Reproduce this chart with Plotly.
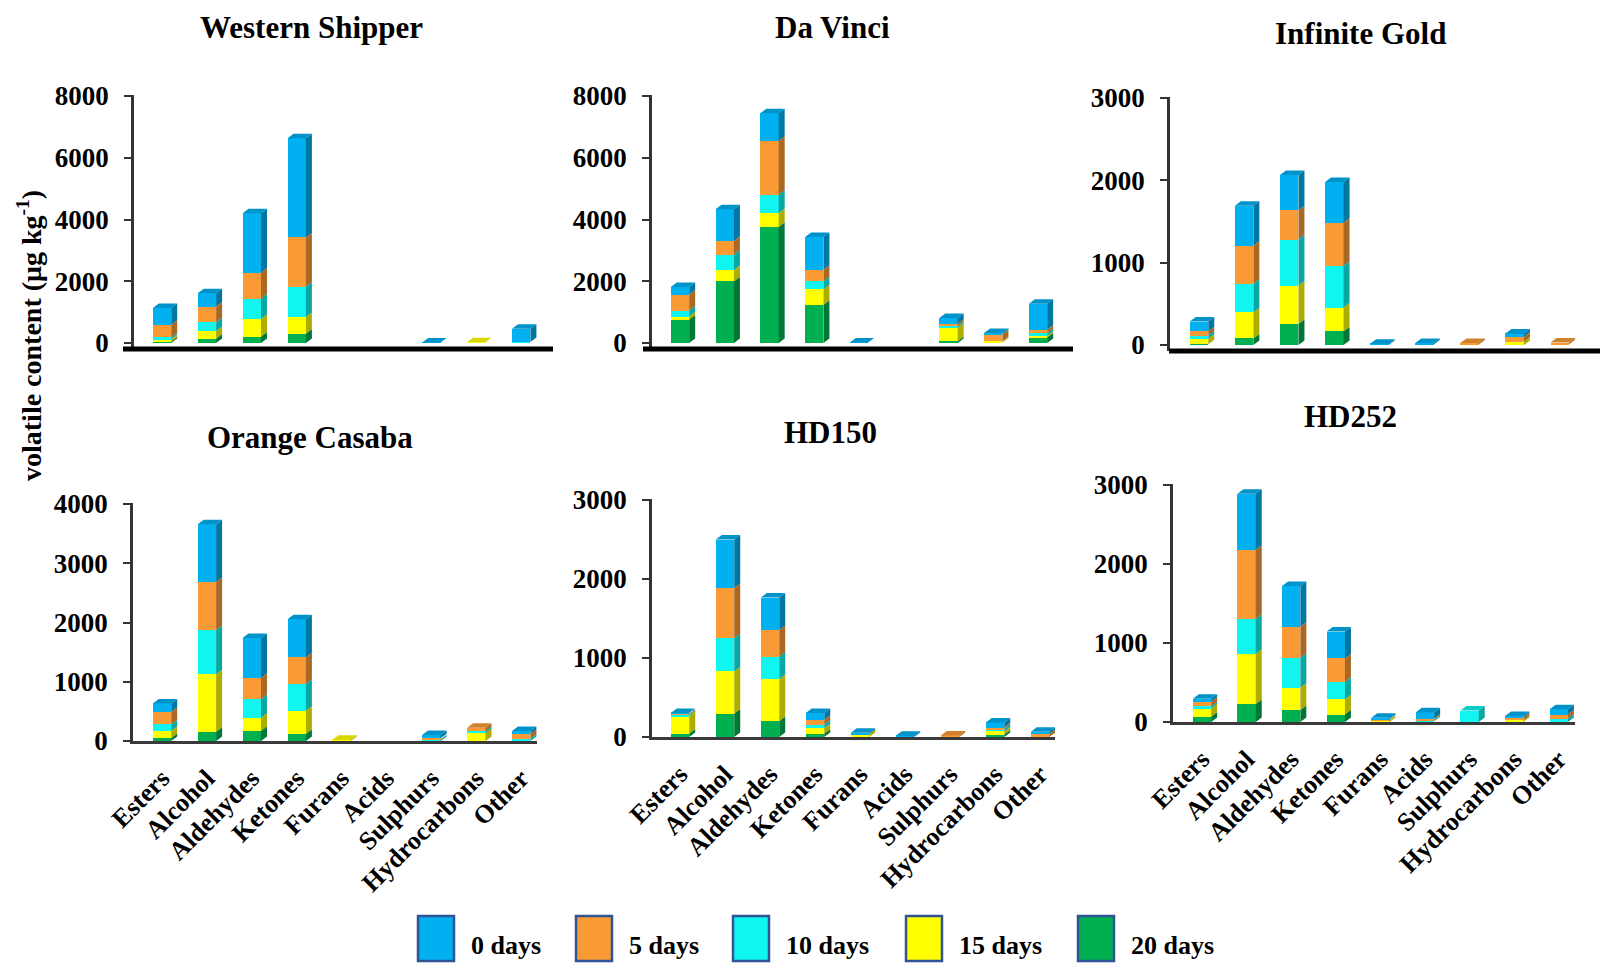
import plotly.graph_objects as go

W, H = 1600, 963

categories = ["Esters", "Alcohol", "Aldehydes", "Ketones", "Furans",
              "Acids", "Sulphurs", "Hydrocarbons", "Other"]
series_names = ["0 days", "5 days", "10 days", "15 days", "20 days"]
series_colors = ["#00B0F0", "#F99A35", "#10F5F0", "#FFFF00", "#00B050"]
panel_titles = ["Western Shipper", "Da Vinci", "Infinite Gold",
                "Orange Casaba", "HD150", "HD252"]

# volatile content (µg/kg) per category, one list per storage period
ws_0 = [540, 430, 1930, 3210, 0, 0, 20, 0, 430]
ws_5 = [410, 510, 840, 1600, 0, 0, 0, 0, 0]
ws_10 = [60, 290, 660, 990, 0, 0, 0, 0, 30]
ws_15 = [80, 240, 570, 530, 0, 0, 0, 25, 0]
ws_20 = [40, 140, 205, 300, 0, 0, 0, 0, 0]

dv_0 = [240, 1025, 895, 1060, 20, 0, 195, 45, 840]
dv_5 = [520, 440, 1750, 375, 0, 0, 75, 215, 120]
dv_10 = [195, 505, 595, 260, 0, 0, 50, 0, 85]
dv_15 = [100, 365, 450, 505, 0, 0, 430, 40, 45]
dv_20 = [755, 1995, 3754, 1230, 0, 0, 60, 20, 180]

ig_0 = [120, 485, 430, 495, 15, 20, 0, 40, 0]
ig_5 = [50, 465, 355, 525, 0, 5, 20, 60, 20]
ig_10 = [40, 345, 560, 505, 0, 0, 0, 0, 10]
ig_15 = [65, 315, 465, 290, 0, 0, 5, 40, 0]
ig_20 = [10, 80, 255, 165, 0, 0, 0, 0, 0]

oc_0 = [145, 975, 675, 640, 0, 0, 55, 0, 50]
oc_5 = [210, 810, 360, 455, 0, 0, 15, 60, 80]
oc_10 = [110, 750, 315, 450, 0, 0, 30, 35, 40]
oc_15 = [125, 975, 220, 390, 20, 0, 0, 130, 0]
oc_20 = [45, 150, 170, 120, 0, 0, 0, 0, 0]

h150_0 = [10, 615, 410, 90, 20, 15, 0, 65, 30]
h150_5 = [15, 635, 340, 60, 0, 0, 20, 20, 35]
h150_10 = [15, 420, 285, 45, 0, 0, 0, 30, 0]
h150_15 = [225, 535, 530, 70, 35, 0, 0, 40, 0]
h150_20 = [40, 295, 200, 40, 0, 0, 0, 30, 0]

h252_0 = [40, 710, 515, 340, 20, 85, 0, 20, 65]
h252_5 = [55, 875, 395, 300, 10, 15, 0, 35, 55]
h252_10 = [30, 445, 375, 220, 0, 15, 145, 0, 40]
h252_15 = [105, 635, 285, 190, 25, 10, 0, 20, 0]
h252_20 = [65, 225, 150, 95, 0, 0, 0, 0, 0]

panel_data = [
    [ws_0, ws_5, ws_10, ws_15, ws_20],
    [dv_0, dv_5, dv_10, dv_15, dv_20],
    [ig_0, ig_5, ig_10, ig_15, ig_20],
    [oc_0, oc_5, oc_10, oc_15, oc_20],
    [h150_0, h150_5, h150_10, h150_15, h150_20],
    [h252_0, h252_5, h252_10, h252_15, h252_20],
]

# pixel geometry of each panel
geom = [
    dict(ax=134, first=162, step=44.9, right=553, zero=343, top=96, tval=8000, dtick=2000, bottom=349,
         floor=(123, 553, 349), title=(311, 28)),
    dict(ax=652, first=680, step=44.75, right=1073, zero=343, top=96, tval=8000, dtick=2000, bottom=349,
         floor=(643, 1073, 349), title=(832, 28)),
    dict(ax=1170, first=1199, step=45.1, right=1600, zero=345, top=98, tval=3000, dtick=1000, bottom=351,
         floor=(1169, 1600, 351), title=(1360, 33)),
    dict(ax=133, first=162, step=44.9, right=537, zero=741, top=504, tval=4000, dtick=1000, bottom=741,
         floor=None, title=(310, 437)),
    dict(ax=652, first=680, step=45.0, right=1055, zero=737, top=500, tval=3000, dtick=1000, bottom=737,
         floor=None, title=(830, 432)),
    dict(ax=1173, first=1202, step=44.6, right=1575, zero=722, top=485, tval=3000, dtick=1000, bottom=722,
         floor=None, title=(1350, 417)),
]

BAR_W = 0.41
DEPTH_X_PX = 6.0
DEPTH_Y_PX = 4.5
SERIF = "Liberation Serif"


def shade(hex_color, f):
    r, g, b = (int(hex_color[i:i + 2], 16) for i in (1, 3, 5))
    return f"rgb({int(r * f)},{int(g * f)},{int(b * f)})"


def px_x(px):
    return px / W


def px_y(py):
    return 1 - py / H


fig = go.Figure()
layout = {}
shapes = []
annotations = []

for k, (g, series) in enumerate(zip(geom, panel_data)):
    sfx = "" if k == 0 else str(k + 1)
    xa, ya = "x" + sfx, "y" + sfx
    upp = g["tval"] / (g["zero"] - g["top"])
    dx = DEPTH_X_PX / g["step"]
    dy = DEPTH_Y_PX * upp
    xs = list(range(len(categories)))

    # front faces: stacked from 20 days at the bottom to 0 days at the top
    order = list(range(len(series) - 1, -1, -1))
    for s in order:
        fig.add_trace(go.Bar(
            x=xs, y=series[s], width=BAR_W, marker=dict(color=series_colors[s], line=dict(width=0)),
            xaxis=xa, yaxis=ya, showlegend=False, name=series_names[s], hoverinfo="skip"))

    # side faces and top faces for the 3D look
    side_pts = {s: ([], []) for s in range(len(series))}
    top_pts = {s: ([], []) for s in range(len(series))}
    for i in xs:
        base = 0.0
        last = None
        xr = i + BAR_W / 2
        xl = i - BAR_W / 2
        for s in order:
            v = series[s][i]
            if v <= 0:
                continue
            px_, py_ = side_pts[s]
            px_ += [xr, xr + dx, xr + dx, xr, xr, None]
            py_ += [base, base + dy, base + v + dy, base + v, base, None]
            base += v
            last = s
        if last is not None:
            tx, ty = top_pts[last]
            tx += [xl, xl + dx, xr + dx, xr, xl, None]
            ty += [base, base + dy, base + dy, base, base, None]
    for s in range(len(series)):
        sx, sy = side_pts[s]
        if sx:
            fig.add_trace(go.Scatter(x=sx, y=sy, fill="toself", fillcolor=shade(series_colors[s], 0.68),
                                     mode="lines", line=dict(width=0), xaxis=xa, yaxis=ya,
                                     showlegend=False, hoverinfo="skip"))
        tx, ty = top_pts[s]
        if tx:
            fig.add_trace(go.Scatter(x=tx, y=ty, fill="toself", fillcolor=shade(series_colors[s], 0.84),
                                     mode="lines", line=dict(width=0), xaxis=xa, yaxis=ya,
                                     showlegend=False, hoverinfo="skip"))

    bottom_row = k >= 3
    layout["xaxis" + sfx] = dict(
        domain=[px_x(g["ax"]), px_x(g["right"])],
        range=[(g["ax"] - g["first"]) / g["step"], (g["right"] - g["first"]) / g["step"]],
        anchor=ya, showgrid=False, zeroline=False, automargin=False,
        showline=bottom_row, linecolor="#3a3a3a", linewidth=2.5,
        tickmode="array", tickvals=xs, ticktext=categories,
        showticklabels=bottom_row, tickangle=-45, ticks="",
        ticklabelstandoff=9,
        tickfont=dict(family=SERIF, size=26, color="black", weight="bold"),
    )
    layout["yaxis" + sfx] = dict(
        domain=[px_y(g["bottom"]), px_y(g["top"] - 1)],
        range=[-(g["bottom"] - g["zero"]) * upp, g["tval"] + 1 * upp],
        anchor=xa, showgrid=False, zeroline=False, automargin=False,
        showline=True, linecolor="#333333", linewidth=2.5,
        ticks="outside", ticklen=7, tickwidth=2, tickcolor="#333333",
        tickmode="linear", tick0=0, dtick=g["dtick"], tickformat="d",
        ticklabelstandoff=10,
        tickfont=dict(family=SERIF, size=27, color="black", weight="bold"),
    )
    if g["floor"] is not None:
        x0, x1, yy = g["floor"]
        shapes.append(dict(type="line", xref="paper", yref="paper",
                           x0=px_x(x0), x1=px_x(x1), y0=px_y(yy), y1=px_y(yy),
                           line=dict(color="black", width=5)))
    tx, ty = g["title"]
    annotations.append(dict(text=panel_titles[k], x=px_x(tx), y=px_y(ty), xref="paper", yref="paper",
                            xanchor="center", yanchor="middle", showarrow=False,
                            font=dict(family=SERIF, size=31, color="black", weight="bold")))

# shared y-axis title
annotations.append(dict(text="volatile content (\u03bcg kg<sup>-1</sup>)", x=px_x(29), y=px_y(336),
                        xref="paper", yref="paper", xanchor="center", yanchor="middle",
                        textangle=-90, showarrow=False,
                        font=dict(family=SERIF, size=28, color="black", weight="bold")))

# legend swatches along the bottom
legend_box_x = [418, 576, 733, 906, 1078]
for s, name in enumerate(series_names):
    bx = legend_box_x[s]
    shapes.append(dict(type="rect", xref="paper", yref="paper",
                       x0=px_x(bx), x1=px_x(bx + 36), y0=px_y(961), y1=px_y(916),
                       fillcolor=series_colors[s], line=dict(color="#2F5597", width=2.5)))
    annotations.append(dict(text=name, x=px_x(bx + 51), y=px_y(945), xref="paper", yref="paper",
                            xanchor="left", yanchor="middle", showarrow=False,
                            font=dict(family=SERIF, size=26, color="black", weight="bold")))

layout.update(
    width=W, height=H, margin=dict(l=0, r=0, t=0, b=0, pad=0, autoexpand=False),
    paper_bgcolor="white", plot_bgcolor="rgba(0,0,0,0)",
    barmode="stack", bargap=0, showlegend=False,
    shapes=shapes, annotations=annotations,
)
fig.update_layout(**layout)
fig.write_html("out.html")
